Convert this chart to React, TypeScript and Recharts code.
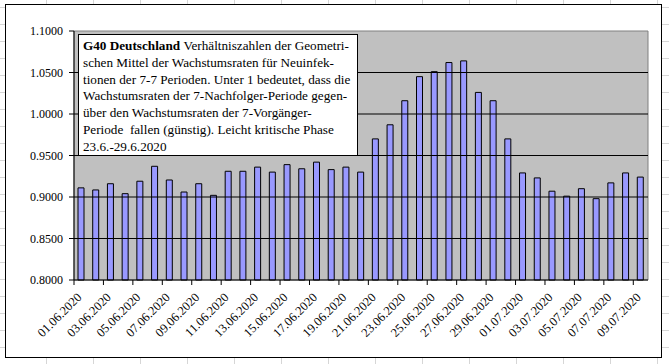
import React from "react";
import { Bar, BarChart, ReferenceArea, ReferenceLine, XAxis, YAxis } from "recharts";

const dates = [
  "01.06.2020", "02.06.2020", "03.06.2020", "04.06.2020", "05.06.2020", "06.06.2020", "07.06.2020", "08.06.2020",
  "09.06.2020", "10.06.2020", "11.06.2020", "12.06.2020", "13.06.2020", "14.06.2020", "15.06.2020", "16.06.2020",
  "17.06.2020", "18.06.2020", "19.06.2020", "20.06.2020", "21.06.2020", "22.06.2020", "23.06.2020", "24.06.2020",
  "25.06.2020", "26.06.2020", "27.06.2020", "28.06.2020", "29.06.2020", "30.06.2020", "01.07.2020", "02.07.2020",
  "03.07.2020", "04.07.2020", "05.07.2020", "06.07.2020", "07.07.2020", "08.07.2020", "09.07.2020",
];

const ratios = [
  0.911, 0.9085, 0.916, 0.904, 0.919, 0.937, 0.9205, 0.906, 0.916, 0.902,
  0.931, 0.931, 0.936, 0.93, 0.939, 0.934, 0.942, 0.933, 0.936, 0.93,
  0.97, 0.987, 1.016, 1.045, 1.051, 1.062, 1.064, 1.026, 1.016, 0.97,
  0.929, 0.923, 0.907, 0.901, 0.91, 0.898, 0.917, 0.929, 0.924,
];

const yTicks = [0.8, 0.85, 0.9, 0.95, 1.0, 1.05, 1.1];
const gridValues = [0.85, 0.9, 0.95, 1.0, 1.05];

const noteLines = [
  "Verhältniszahlen der Geometri-",
  "schen Mittel der Wachstumsraten für Neuinfek-",
  "tionen der 7-7 Perioden. Unter 1 bedeutet, dass die",
  "Wachstumsraten der 7-Nachfolger-Periode gegen-",
  "über den Wachstumsraten der 7-Vorgänger-",
  "Periode  fallen (günstig). Leicht kritische Phase",
  "23.6.-29.6.2020",
];

const data = dates.map((date, i) => ({ date, value: ratios[i] }));

const font = "'Liberation Serif', Tinos, 'Times New Roman', 'DejaVu Serif', serif";
const halfBand = 574 / dates.length / 2;

function DateTick(props: any) {
  const { x, y, payload, index } = props;
  if (index % 2 !== 0) return null;
  const left = x - halfBand;
  const tx = x + 1;
  const ty = y + 18;
  return (
    <g>
      <line x1={left} y1={y} x2={left} y2={y + 5} stroke="#000" />
      <text x={tx} y={ty} transform={`rotate(-45 ${tx} ${ty})`} textAnchor="end" fontSize={12.5} fontFamily={font} fill="#000">
        {payload.value}
      </text>
    </g>
  );
}

export default function App() {
  return (
    <div
      style={{
        position: "absolute",
        left: 0,
        top: 0,
        width: 669,
        height: 364,
        background: "#fff",
        backgroundImage:
          "repeating-linear-gradient(90deg, transparent 0 46px, #d6d6d6 46px 47px), repeating-linear-gradient(0deg, transparent 0 16px, #d6d6d6 16px 17px)",
        overflow: "hidden",
      }}
    >
      <div
        style={{
          position: "absolute",
          left: 5,
          top: 4,
          width: 655,
          height: 352,
          border: "1px solid #000",
          background: "#fff",
        }}
      />
      <div style={{ position: "absolute", left: 0, top: 0 }}>
        <BarChart width={669} height={364} data={data} margin={{ top: 31, right: 21, bottom: 0, left: 0 }} barSize={6}>
          <ReferenceArea y1={0.8} y2={1.1} fill="#C0C0C0" fillOpacity={1} stroke="#808080" strokeWidth={1} />
          {gridValues.map((v) => (
            <ReferenceLine key={v} y={v} stroke="#000" strokeWidth={1} />
          ))}
          <XAxis
            dataKey="date"
            interval={0}
            height={84}
            tickSize={0}
            tickMargin={0}
            axisLine={{ stroke: "#000" }}
            tickLine={false}
            tick={<DateTick />}
          />
          <YAxis
            width={74}
            domain={[0.8, 1.1]}
            ticks={yTicks}
            tickFormatter={(v) => Number(v).toFixed(4)}
            axisLine={{ stroke: "#000" }}
            tickLine={{ stroke: "#000" }}
            tickSize={5}
            tickMargin={6}
            tick={{ fill: "#000", fontSize: 12, fontFamily: font }}
          />
          <Bar dataKey="value" fill="#9999FF" stroke="#000" strokeWidth={1} isAnimationActive={false} />
        </BarChart>
      </div>
      <div
        style={{
          position: "absolute",
          left: 78,
          top: 34,
          width: 280,
          height: 122,
          border: "1px solid #000",
          background: "#fff",
          fontFamily: font,
          fontSize: 13.2,
          lineHeight: "16.8px",
          color: "#000",
          padding: "3px 0 0 4px",
          boxSizing: "border-box",
          whiteSpace: "pre",
        }}
      >
        {noteLines.map((line, i) => (
          <div key={i}>
            {i === 0 && <b>G40 Deutschland </b>}
            {line}
          </div>
        ))}
      </div>
    </div>
  );
}
